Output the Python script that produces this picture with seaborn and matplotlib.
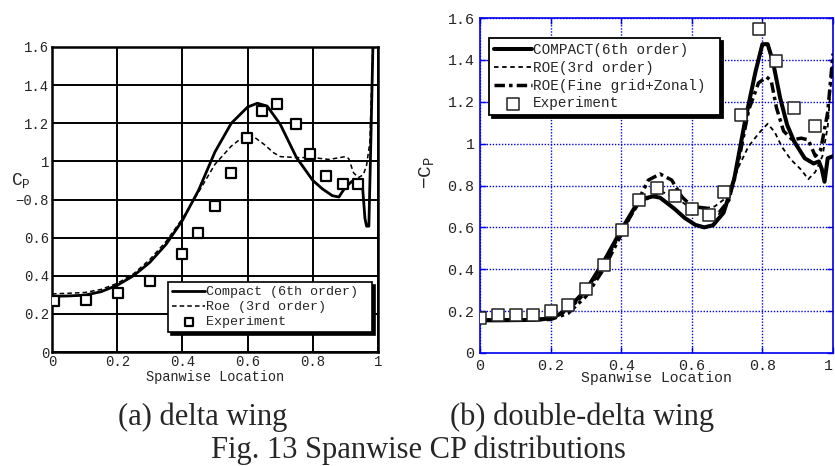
import matplotlib
matplotlib.use("Agg")
import matplotlib.pyplot as plt
import seaborn as sns
import pandas as pd

# ---------------- data: (a) delta wing ----------------
a_compact_x = [0.0, 0.05, 0.10, 0.15, 0.20, 0.25, 0.30, 0.35, 0.40, 0.45, 0.50, 0.55,
               0.60, 0.63, 0.66, 0.70, 0.75, 0.80, 0.83, 0.86, 0.88, 0.90, 0.92,
               0.935, 0.945, 0.952, 0.960, 0.965, 0.972, 0.978, 0.985]
a_compact_y = [0.292, 0.294, 0.298, 0.316, 0.350, 0.400, 0.470, 0.565, 0.690, 0.850, 1.050, 1.200,
               1.285, 1.305, 1.290, 1.195, 1.020, 0.900, 0.855, 0.820, 0.813, 0.865, 0.895,
               0.865, 0.870, 0.880, 0.700, 0.660, 0.660, 1.100, 1.650]
a_roe_x = [0.0, 0.05, 0.10, 0.15, 0.20, 0.25, 0.30, 0.35, 0.40, 0.45, 0.50, 0.55, 0.58,
           0.60, 0.62, 0.65, 0.68, 0.70, 0.75, 0.80, 0.85, 0.90, 0.91, 0.925, 0.94,
           0.955, 0.965, 0.975, 0.985]
a_roe_y = [0.305, 0.308, 0.312, 0.328, 0.360, 0.410, 0.485, 0.580, 0.700, 0.840, 0.985, 1.080, 1.120,
           1.135, 1.128, 1.090, 1.045, 1.025, 1.020, 1.020, 1.010, 1.025, 1.015, 0.940, 0.915,
           0.930, 0.980, 1.100, 1.650]
a_exp_x = [0.007, 0.104, 0.203, 0.302, 0.400, 0.447, 0.499, 0.548, 0.598, 0.645, 0.689,
           0.749, 0.792, 0.839, 0.893, 0.939]
a_exp_y = [0.268, 0.275, 0.310, 0.372, 0.516, 0.626, 0.766, 0.939, 1.124, 1.264, 1.299,
           1.194, 1.040, 0.921, 0.883, 0.880]

# ---------------- data: (b) double-delta wing ----------------
b_compact_x = [0.0, 0.05, 0.10, 0.15, 0.20, 0.225, 0.25, 0.30, 0.35, 0.40, 0.44, 0.47, 0.49,
               0.51, 0.55, 0.58, 0.61, 0.635, 0.66, 0.69, 0.72, 0.75, 0.78, 0.80, 0.815,
               0.83, 0.85, 0.87, 0.89, 0.92, 0.945, 0.96, 0.968, 0.976, 0.985, 1.0]
b_compact_y = [0.156, 0.156, 0.157, 0.158, 0.165, 0.185, 0.215, 0.300, 0.435, 0.587, 0.700, 0.740, 0.748,
               0.742, 0.690, 0.645, 0.612, 0.600, 0.610, 0.670, 0.830, 1.100, 1.340, 1.475, 1.475,
               1.390, 1.220, 1.090, 1.010, 0.930, 0.905, 0.915, 0.880, 0.818, 0.930, 0.940]
b_roe_x = [0.0, 0.10, 0.20, 0.25, 0.30, 0.35, 0.40, 0.45, 0.48, 0.515, 0.55, 0.59, 0.63, 0.665,
           0.70, 0.73, 0.76, 0.79, 0.815, 0.835, 0.855, 0.88, 0.91, 0.93, 0.95, 0.97, 0.985, 1.0]
b_roe_y = [0.160, 0.160, 0.165, 0.200, 0.285, 0.410, 0.575, 0.710, 0.740, 0.770, 0.748, 0.700, 0.690, 0.700,
           0.745, 0.880, 0.985, 1.050, 1.095, 1.055, 0.985, 0.925, 0.875, 0.830, 0.865, 0.940, 1.080, 1.420]
b_fine_x = [0.0, 0.10, 0.20, 0.25, 0.30, 0.35, 0.40, 0.44, 0.477, 0.51, 0.543, 0.572, 0.60, 0.64,
            0.676, 0.705, 0.733, 0.761, 0.789, 0.812, 0.825, 0.84, 0.86, 0.885, 0.91, 0.93,
            0.95, 0.965, 0.985, 1.0]
b_fine_y = [0.158, 0.158, 0.160, 0.190, 0.270, 0.400, 0.565, 0.700, 0.826, 0.855, 0.826, 0.746, 0.700, 0.692,
            0.668, 0.730, 0.920, 1.160, 1.290, 1.318, 1.300, 1.170, 1.060, 1.018, 1.026, 1.018,
            0.940, 0.970, 1.150, 1.430]
b_exp_x = [0.0, 0.052, 0.101, 0.151, 0.200, 0.250, 0.300, 0.350, 0.402, 0.451, 0.501, 0.551,
           0.600, 0.649, 0.690, 0.740, 0.789, 0.839, 0.890, 0.950]
b_exp_y = [0.167, 0.180, 0.180, 0.180, 0.200, 0.228, 0.308, 0.420, 0.587, 0.730, 0.786, 0.750,
           0.686, 0.659, 0.767, 1.137, 1.547, 1.397, 1.168, 1.086]

x_ticks = [0, 0.2, 0.4, 0.6, 0.8, 1.0]
x_ticklabels = ["0", "0.2", "0.4", "0.6", "0.8", "1"]
y_ticks = [0, 0.2, 0.4, 0.6, 0.8, 1.0, 1.2, 1.4, 1.6]
a_yticklabels = ["0", "0.2", "0.4", "0.6", "\u22120.8", "1", "1.2", "1.4", "1.6"]
b_yticklabels = ["0", "0.2", "0.4", "0.6", "0.8", "1", "1.2", "1.4", "1.6"]

a_labels = ["Compact (6th order)", "Roe (3rd order)", "Experiment"]
b_labels = ["COMPACT(6th order)", "ROE(3rd order)", "ROE(Fine grid+Zonal)", "Experiment"]

# ---------------- style ----------------
sns.set_theme(style="white")
MONO = ["Liberation Mono", "DejaVu Sans Mono"]
SERIF = ["Liberation Serif", "DejaVu Serif"]
plt.rcParams["font.family"] = MONO
plt.rcParams["mathtext.fontset"] = "custom"
plt.rcParams["mathtext.rm"] = "Liberation Mono"

W, H = 835, 466
fig = plt.figure(figsize=(W / 100, H / 100), dpi=100)
fig.patch.set_facecolor("white")


def px_axes(x0, y0, x1, y1):
    return fig.add_axes([x0 / W, 1 - y1 / H, (x1 - x0) / W, (y1 - y0) / H])


# ======== (a) ========
axa = px_axes(52, 47, 378, 352)
da_c = pd.DataFrame({"x": a_compact_x, "y": a_compact_y})
da_r = pd.DataFrame({"x": a_roe_x, "y": a_roe_y})
da_e = pd.DataFrame({"x": a_exp_x, "y": a_exp_y})
sns.lineplot(data=da_c, x="x", y="y", ax=axa, color="black", lw=2.0,
             estimator=None, sort=False, label=a_labels[0], zorder=3)
sns.lineplot(data=da_r, x="x", y="y", ax=axa, color="black", lw=1.1,
             linestyle=(0, (3, 2)), estimator=None, sort=False, label=a_labels[1], zorder=3)
sns.scatterplot(data=da_e, x="x", y="y", ax=axa, marker="s", s=42, facecolor="white",
                edgecolor="black", linewidth=1.6, label=a_labels[2], zorder=4)
axa.set_xlim(0, 1)
axa.set_ylim(0, 1.6)
axa.set_xticks(x_ticks)
axa.set_xticklabels(x_ticklabels, fontsize=10)
axa.set_yticks(y_ticks)
axa.set_yticklabels(a_yticklabels, fontsize=10)
axa.tick_params(length=0, pad=2)
axa.grid(True, color="black", lw=1.4, ls="-")
for s in axa.spines.values():
    s.set_color("black")
    s.set_linewidth(1.8)
axa.set_xlabel("Spanwise Location", fontsize=9.8, labelpad=1)
axa.set_ylabel("")
fig.text(11 / W, 1 - 180 / H, "C$_\\mathregular{P}$", fontsize=13, ha="left", va="center")
la = axa.legend(loc="upper left", bbox_to_anchor=(0.356, 0.03, 0.626, 0.2), mode="expand",
                fontsize=9.6, frameon=True, fancybox=False, edgecolor="black",
                handlelength=2.5, handletextpad=0.05, labelspacing=0.2,
                borderpad=0.3, borderaxespad=0, shadow={"color": "black", "alpha": 1},
                markerscale=0.8)
la.get_frame().set_linewidth(1.2)
la.get_frame().set_alpha(1)

# ======== (b) ========
BLUE = "#0000ee"
axb = px_axes(480, 18, 833, 353)
db_c = pd.DataFrame({"x": b_compact_x, "y": b_compact_y})
db_r = pd.DataFrame({"x": b_roe_x, "y": b_roe_y})
db_f = pd.DataFrame({"x": b_fine_x, "y": b_fine_y})
db_e = pd.DataFrame({"x": b_exp_x, "y": b_exp_y})
sns.lineplot(data=db_c, x="x", y="y", ax=axb, color="black", lw=2.9,
             estimator=None, sort=False, label=b_labels[0], zorder=3)
sns.lineplot(data=db_r, x="x", y="y", ax=axb, color="black", lw=1.3,
             linestyle=(0, (2.5, 2)), estimator=None, sort=False, label=b_labels[1], zorder=3)
sns.lineplot(data=db_f, x="x", y="y", ax=axb, color="black", lw=2.5,
             linestyle=(0, (3, 1.2, 1, 1.2)), estimator=None, sort=False, label=b_labels[2], zorder=3)
sns.scatterplot(data=db_e, x="x", y="y", ax=axb, marker="s", s=80, facecolor="white",
                edgecolor="#222222", linewidth=1.1, label=b_labels[3], zorder=4)
axb.set_xlim(0, 1)
axb.set_ylim(0, 1.6)
axb.set_xticks(x_ticks)
axb.set_xticklabels(x_ticklabels, fontsize=10.8)
axb.get_xticklabels()[-1].set_horizontalalignment("right")
axb.set_yticks(y_ticks)
axb.set_yticklabels(b_yticklabels, fontsize=10.8)
axb.tick_params(direction="in", length=4, width=1, color=BLUE, pad=4,
                top=True, right=True, bottom=True, left=True)
axb.grid(True, color=BLUE, lw=1.0, ls=(0, (1, 1.2)))
for s in axb.spines.values():
    s.set_color(BLUE)
    s.set_linewidth(1.2)
axb.set_xlabel("Spanwise Location", fontsize=10.6, labelpad=-1)
axb.set_ylabel("")
fig.text(427 / W, 1 - 172 / H, "\u2212C$_\\mathregular{P}$", fontsize=14, rotation=90,
         ha="center", va="center")
lb = axb.legend(loc="upper left", bbox_to_anchor=(0.0255, 0.939, 0.655, 0.0), mode="expand",
                fontsize=10.4, frameon=True, fancybox=False, edgecolor="black",
                handlelength=2.6, handletextpad=0.1, labelspacing=0.25,
                borderpad=0.35, borderaxespad=0, shadow={"color": "black", "alpha": 1})
lb.get_frame().set_linewidth(1.3)
lb.get_frame().set_alpha(1)

# ======== captions ========
fig.text(203 / W, 1 - 425 / H, "(a) delta wing", family=SERIF, fontsize=22,
         ha="center", va="baseline")
fig.text(582 / W, 1 - 425 / H, "(b) double-delta wing", family=SERIF, fontsize=22,
         ha="center", va="baseline")
fig.text(418 / W, 1 - 458 / H, "Fig. 13 Spanwise CP distributions", family=SERIF, fontsize=22,
         ha="center", va="baseline")

fig.savefig("out.png", dpi=100, facecolor="white")
